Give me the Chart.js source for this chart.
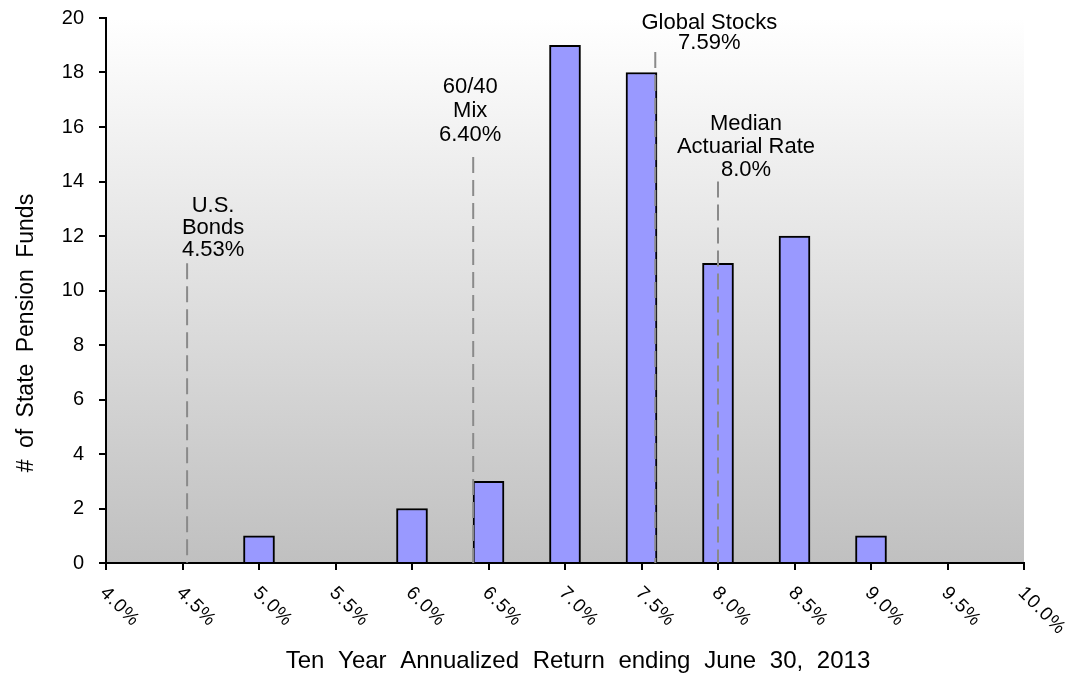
<!DOCTYPE html>
<html>
<head>
<meta charset="utf-8">
<script src="https://cdn.jsdelivr.net/npm/chart.js@4.4.1/dist/chart.umd.min.js"></script>
<style>
  html, body { margin: 0; padding: 0; background: #fff; }
  #wrap { width: 1076px; height: 677px; }
</style>
</head>
<body>
<div id="wrap"><canvas id="funds"></canvas></div>
<script>
// Ten-year annualized return bins (%) and number of state pension funds in each
const returnBins = [5.0, 6.0, 6.5, 7.0, 7.5, 8.0, 8.5, 9.0];
const fundCounts = [1, 2, 3, 19, 18, 11, 12, 1];

// Benchmarks shown as dashed reference lines
const benchmarkNames = [['U.S.', 'Bonds'], ['60/40', 'Mix'], ['Global Stocks'], ['Median', 'Actuarial Rate']];
const benchmarkRates = [4.53, 6.40, 7.59, 8.0];
const benchmarkDecimals = [2, 2, 2, 1];
const benchmarkLineTops = [11, 14.9, 18.75, 14];

// Axis ticks
const xTicks = [4.0, 4.5, 5.0, 5.5, 6.0, 6.5, 7.0, 7.5, 8.0, 8.5, 9.0, 9.5, 10.0];
const yTicks = [0, 2, 4, 6, 8, 10, 12, 14, 16, 18, 20];

const xTitle = 'Ten Year Annualized Return ending June 30, 2013';
const yTitle = '# of State Pension Funds';

// label placement next to each dashed line (px from the line top)
const benchmarkLabelPos = [
    { dx: 26, dy: -13, lh: 22 },
    { dx: -3, dy: -22, lh: 24 },
    { dx: 54, dy: -9.5, lh: 20 },
    { dx: 28, dy: -12, lh: 23 }
];

const FONT = '"Liberation Sans", Arial, Helvetica, sans-serif';

const barData = returnBins.map((x, i) => ({ x: x, y: fundCounts[i] }));

const lineSets = benchmarkRates.map((rate, i) => ({
    type: 'line',
    data: [{ x: rate, y: benchmarkLineTops[i] }, { x: rate, y: 0 }],
    borderColor: '#8a8a8a',
    borderWidth: 2,
    borderDash: [16, 7],
    pointRadius: 0,
    fill: false,
    order: 1
}));

const fundsPlugin = {
    id: 'fundsDecor',
    beforeDraw(chart) {
        const { ctx, chartArea: a } = chart;
        ctx.save();
        ctx.fillStyle = '#fff';
        ctx.fillRect(0, 0, chart.width, chart.height);
        const g = ctx.createLinearGradient(0, a.top, 0, a.bottom);
        g.addColorStop(0, '#ffffff');
        g.addColorStop(1, '#c0c0c0');
        ctx.fillStyle = g;
        ctx.fillRect(a.left, a.top, a.right - a.left, a.bottom - a.top);
        ctx.restore();
    },
    afterDraw(chart) {
        const { ctx, chartArea: a } = chart;
        const xs = chart.scales.x;
        const ys = chart.scales.y;
        ctx.save();
        ctx.fillStyle = '#000';

        // rotated x tick labels, reading down to the right
        ctx.font = '19px ' + FONT;
        ctx.textAlign = 'left';
        ctx.textBaseline = 'middle';
        if ('letterSpacing' in ctx) ctx.letterSpacing = '1px';
        xTicks.forEach(v => {
            const px = xs.getPixelForValue(v);
            ctx.save();
            ctx.translate(px - 3, a.bottom + 27);
            ctx.rotate(Math.PI / 4);
            ctx.fillText(v.toFixed(1) + '%', 0, 0);
            ctx.restore();
        });
        if ('letterSpacing' in ctx) ctx.letterSpacing = '0px';

        // axis titles
        ctx.textAlign = 'center';
        ctx.font = '24px ' + FONT;
        if ('wordSpacing' in ctx) ctx.wordSpacing = '7px';
        ctx.fillText(xTitle, 578, 661);

        ctx.save();
        ctx.font = '23px ' + FONT;
        if ('wordSpacing' in ctx) ctx.wordSpacing = '5px';
        ctx.translate(27, 333);
        ctx.rotate(-Math.PI / 2);
        ctx.fillText(yTitle, 0, 0);
        ctx.restore();
        if ('wordSpacing' in ctx) ctx.wordSpacing = '0px';

        // benchmark labels above the dashed lines
        ctx.font = '22px ' + FONT;
        benchmarkRates.forEach((rate, i) => {
            const pos = benchmarkLabelPos[i];
            const lines = benchmarkNames[i].concat([rate.toFixed(benchmarkDecimals[i]) + '%']);
            const cx = xs.getPixelForValue(rate) + pos.dx;
            const lastY = ys.getPixelForValue(benchmarkLineTops[i]) + pos.dy;
            lines.forEach((t, j) => {
                ctx.fillText(t, cx, lastY - (lines.length - 1 - j) * pos.lh);
            });
        });
        ctx.restore();
    }
};

const axisGrid = {
    drawOnChartArea: false,
    drawTicks: true,
    tickLength: 7,
    color: '#000',
    lineWidth: 2,
    offset: false
};

new Chart(document.getElementById('funds'), {
    type: 'bar',
    data: {
        datasets: [
            {
                type: 'bar',
                data: barData,
                backgroundColor: '#9999ff',
                borderColor: '#000',
                borderWidth: 2,
                barThickness: 31,
                order: 2
            },
            ...lineSets
        ]
    },
    options: {
        responsive: true,
        maintainAspectRatio: false,
        animation: false,
        layout: { padding: { top: 18, right: 52, bottom: 0, left: 0 } },
        plugins: {
            legend: { display: false },
            tooltip: { enabled: false }
        },
        scales: {
            x: {
                type: 'linear',
                min: 4,
                max: 10,
                offset: false,
                afterBuildTicks: s => { s.ticks = xTicks.map(v => ({ value: v })); },
                ticks: { display: false },
                grid: axisGrid,
                border: { display: true, color: '#000', width: 2 },
                afterFit: s => { s.height = 114; s.paddingLeft = 0; s.paddingRight = 0; }
            },
            y: {
                min: 0,
                max: 20,
                afterBuildTicks: s => { s.ticks = yTicks.map(v => ({ value: v })); },
                ticks: {
                    color: '#000',
                    padding: 15,
                    font: { family: FONT, size: 20 }
                },
                grid: axisGrid,
                border: { display: true, color: '#000', width: 2 },
                afterFit: s => { s.width = 106; s.paddingTop = 0; s.paddingBottom = 0; }
            }
        }
    },
    plugins: [fundsPlugin]
});
</script>
</body>
</html>
